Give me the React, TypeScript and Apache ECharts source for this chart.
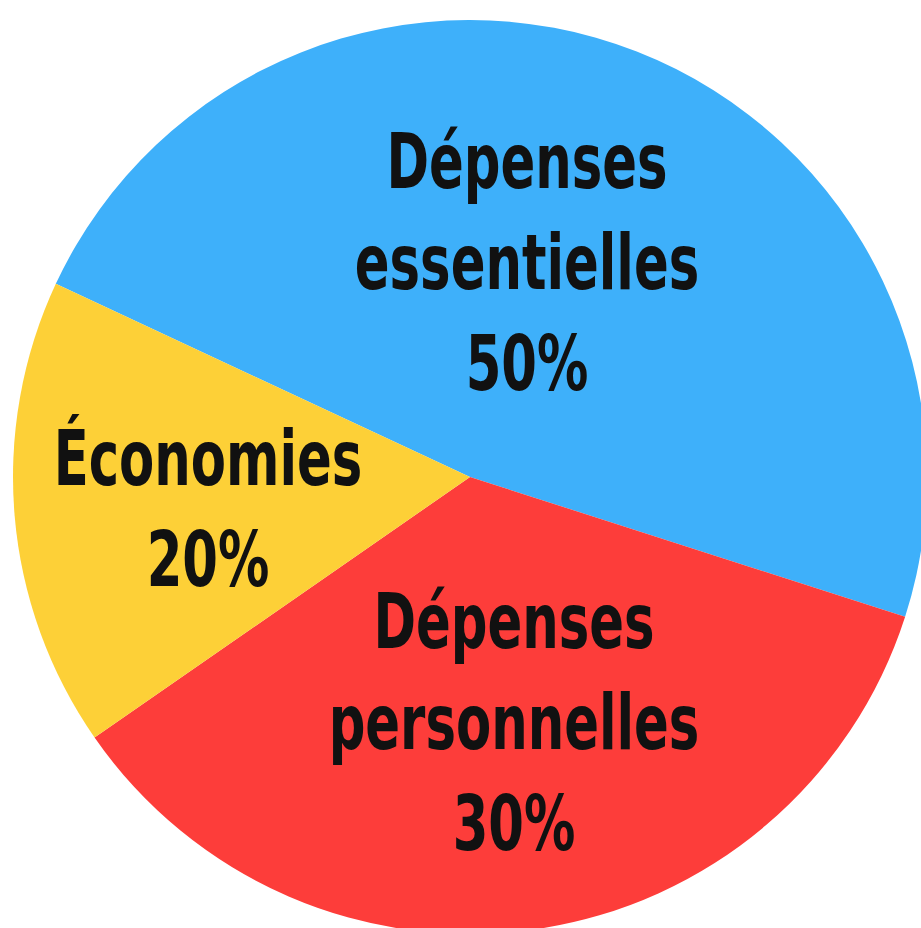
import React, { useEffect, useRef } from "react";
import * as echarts from "echarts";

// Category names and the stated percentages (label text)
const categories = ["Dépenses essentielles", "Dépenses personnelles", "Économies"];
const labelLines = [["Dépenses", "essentielles"], ["Dépenses", "personnelles"], ["Économies"]];
const statedPercents = [50, 30, 20];
// Slice shares as drawn in the picture (angles)
const sliceShares = [48.0, 35.4, 16.6];
const colors = ["#3EB0FA", "#FD3D3A", "#FDD037"];

// Label block centres (pixels)
const labelAnchors: [number, number][] = [
  [527, 263],
  [514, 723],
  [208, 509],
];

const FONT_FAMILY = "'Liberation Sans Narrow', 'DejaVu Sans Condensed', 'DejaVu Sans', sans-serif";
const FONT_SIZE = 76;
const LINE_H = 101;
const SQUEEZE = 0.75;

export default function App() {
  const ref = useRef<HTMLDivElement>(null);
  useEffect(() => {
    if (!ref.current) return;
    const chart = echarts.init(ref.current, undefined, { renderer: "svg" });

    const texts: any[] = [];
    categories.forEach((_, i) => {
      const lines = [...labelLines[i], `${statedPercents[i]}%`];
      const [cx, cy] = labelAnchors[i];
      const startY = cy - ((lines.length - 1) * LINE_H) / 2;
      lines.forEach((ln, k) => {
        texts.push({
          type: "text",
          x: cx,
          y: startY + k * LINE_H,
          scaleX: SQUEEZE,
          silent: true,
          z: 100,
          style: {
            text: ln,
            x: 0,
            y: 0,
            fill: "#111111",
            fontFamily: FONT_FAMILY,
            fontWeight: "bold",
            fontSize: FONT_SIZE,
            textAlign: "center",
            textVerticalAlign: "middle",
          },
        });
      });
    });

    chart.setOption({
      animation: false,
      backgroundColor: "#ffffff",
      graphic: texts,
      series: [
        {
          type: "pie",
          center: [470, 477],
          radius: 457,
          startAngle: 155,
          clockwise: true,
          silent: true,
          emphasis: { disabled: true },
          itemStyle: { borderWidth: 0 },
          labelLine: { show: false },
          label: { show: false },
          data: categories.map((c, i) => ({
            name: c,
            value: sliceShares[i],
            itemStyle: { color: colors[i] },
          })),
        },
      ],
    });
    return () => chart.dispose();
  }, []);
  return (
    <div
      ref={ref}
      style={{ position: "fixed", left: 0, top: 0, width: 921, height: 928, background: "#fff" }}
    />
  );
}
